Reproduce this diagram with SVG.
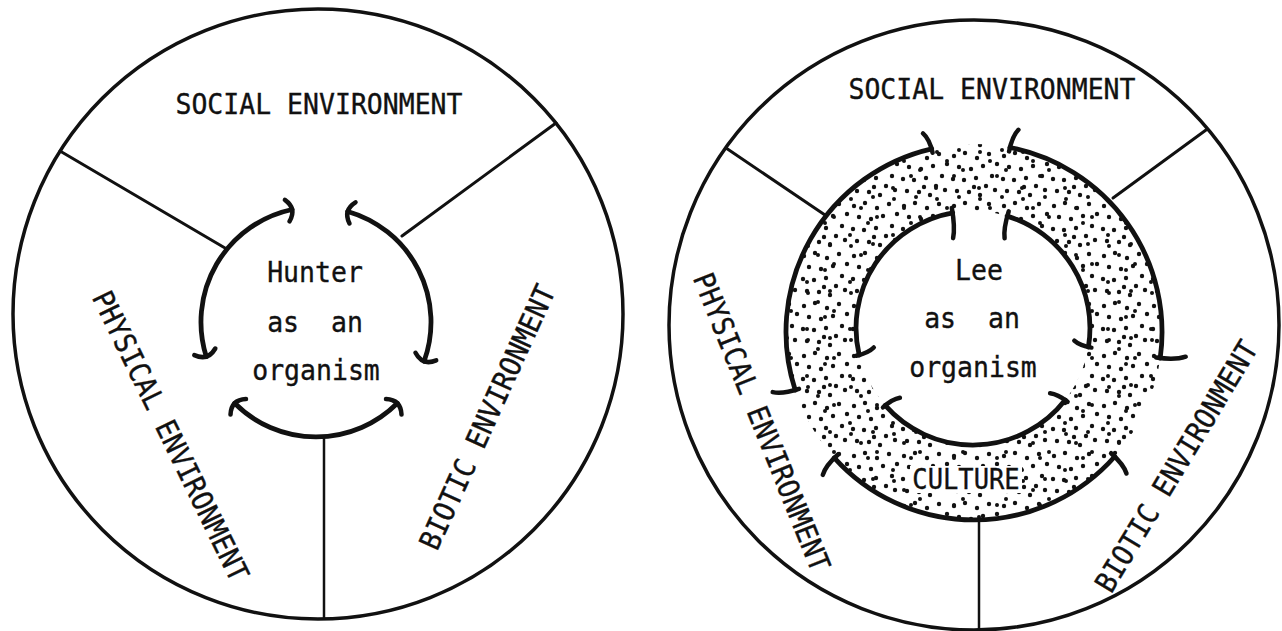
<svg xmlns="http://www.w3.org/2000/svg" width="1282" height="631" viewBox="0 0 1282 631">
  <style>
    .frame { fill: none; stroke: #111; stroke-width: 3.5; }
    .divider { fill: none; stroke: #111; stroke-width: 3; stroke-linecap: round; }
    .stem { fill: none; stroke: #111; stroke-width: 2.5; }
    .arc { fill: none; stroke: #111; stroke-width: 4.8; stroke-linecap: round; }
    .head { fill: none; stroke: #111; stroke-width: 4.5; stroke-linecap: round; stroke-linejoin: round; }
    .lbl { font-family: "DejaVu Sans Mono", "Liberation Mono", monospace; font-size: 26.5px; fill: #111; stroke: #111; stroke-width: 0.35; text-anchor: middle; }
    .small { font-size: 25.5px; }
  </style>
  <defs>
    <!-- two offset dot tiles layered to give an irregular stipple -->
    <pattern id="dotsA" patternUnits="userSpaceOnUse" width="50" height="50">
      <g fill="#111">
        <circle cx="4" cy="6" r="2.2"/><circle cx="15" cy="3" r="2.2"/><circle cx="27" cy="8" r="2.2"/>
        <circle cx="39" cy="4" r="2.2"/><circle cx="47" cy="14" r="2.2"/><circle cx="9" cy="17" r="2.2"/>
        <circle cx="21" cy="19" r="2.2"/><circle cx="33" cy="16" r="2.2"/><circle cx="42" cy="26" r="2.2"/>
        <circle cx="3" cy="29" r="2.2"/><circle cx="14" cy="30" r="2.2"/><circle cx="26" cy="28" r="2.2"/>
        <circle cx="36" cy="36" r="2.2"/><circle cx="7" cy="41" r="2.2"/><circle cx="19" cy="42" r="2.2"/>
        <circle cx="30" cy="45" r="2.2"/><circle cx="45" cy="40" r="2.2"/><circle cx="24" cy="37" r="2.2"/>
      </g>
    </pattern>
    <pattern id="dotsB" patternUnits="userSpaceOnUse" width="43" height="47" x="11" y="7">
      <g fill="#111">
        <circle cx="2" cy="2" r="2"/><circle cx="23" cy="4" r="2"/><circle cx="6" cy="22" r="2"/>
        <circle cx="40" cy="28" r="2"/><circle cx="22" cy="40" r="2"/><circle cx="33" cy="13" r="2"/>
      </g>
    </pattern>
  </defs>

  <rect width="1282" height="631" fill="#fff"/>

  <!-- ===== Left figure: hunter as an organism ===== -->
  <g id="left-figure">
    <g id="left-frame">
      <circle class="frame" cx="318" cy="314" r="305"/>
      <line class="divider" x1="60" y1="151" x2="225" y2="248"/>
      <line class="divider" x1="556" y1="123" x2="402" y2="236"/>
      <line class="stem" x1="324" y1="437" x2="324" y2="619"/>
    </g>
    <g id="left-social"><text class="lbl" transform="translate(319 114) scale(1 1.1)">SOCIAL ENVIRONMENT</text></g>
    <g id="left-physical"><text class="lbl" transform="translate(171 436) rotate(64) scale(1 1.1)" x="0" y="9.6">PHYSICAL ENVIRONMENT</text></g>
    <g id="left-biotic"><text class="lbl" transform="translate(487 417) rotate(-65.5) scale(1 1.1)" x="0" y="9.6">BIOTIC ENVIRONMENT</text></g>
    <g id="left-organism">
      <text class="lbl" transform="translate(315 282) scale(1 1.1)">Hunter</text>
      <text class="lbl" transform="translate(315 332) scale(1 1.1)" xml:space="preserve">as  an</text>
      <text class="lbl" transform="translate(316 380) scale(1 1.1)">organism</text>
    </g>
    <g id="left-connectors">
      <path class="arc" d="M206.3 356.6 A115 115 0 0 1 292.1 209.5"/>
      <path class="head" d="M284.9 199.8 Q297 208.5 289.5 221.3"/>
      <path class="head" d="M194.3 355.1 Q207.8 361.4 215.3 348.5"/>
      <path class="arc" d="M347.7 211.5 A115 115 0 0 1 424.1 361.3"/>
      <path class="head" d="M355.5 202.3 Q342.9 210.1 349.5 223.5"/>
      <path class="head" d="M436.2 360.4 Q422.4 366 415.5 352.8"/>
      <path class="arc" d="M397.3 403.3 A115 115 0 0 1 234.7 403.3"/>
      <path class="head" d="M401.5 414.6 Q400.8 399.8 386 399.1"/>
      <path class="head" d="M230.5 414.6 Q231.2 399.8 246 399.1"/>
    </g>
  </g>

  <!-- ===== Right figure: Lee, wrapped in culture ===== -->
  <g id="right-figure">
    <g id="right-frame">
      <circle class="frame" cx="974" cy="325" r="305"/>
      <line class="divider" x1="726" y1="148" x2="825" y2="215"/>
      <line class="divider" x1="1206" y1="130" x2="1113" y2="198"/>
      <line class="stem" x1="979" y1="520" x2="979" y2="630"/>
    </g>
    <g id="culture">
      <path fill="url(#dotsA)" fill-rule="evenodd" d="M786 332 a188 188 0 1 0 376 0 a188 188 0 1 0 -376 0 Z M856 328 a117 117 0 1 0 234 0 a117 117 0 1 0 -234 0 Z"/>
      <path fill="url(#dotsB)" fill-rule="evenodd" d="M786 332 a188 188 0 1 0 376 0 a188 188 0 1 0 -376 0 Z M856 328 a117 117 0 1 0 234 0 a117 117 0 1 0 -234 0 Z"/>
      <rect x="910" y="466" width="112" height="27" fill="#fff"/>
      <text class="lbl small" transform="translate(966 489) scale(1 1.1)">CULTURE</text>
    </g>
    <g id="right-social"><text class="lbl" transform="translate(992 99) scale(1 1.1)">SOCIAL ENVIRONMENT</text></g>
    <g id="right-physical"><text class="lbl" transform="translate(762 422) rotate(68) scale(1 1.1)" x="0" y="9.6">PHYSICAL ENVIRONMENT</text></g>
    <g id="right-biotic"><text class="lbl" transform="translate(1176 466) rotate(-59) scale(1 1.1)" x="0" y="9.6">BIOTIC ENVIRONMENT</text></g>
    <g id="right-organism">
      <text class="lbl" transform="translate(979 280) scale(1 1.1)">Lee</text>
      <text class="lbl" transform="translate(972 328) scale(1 1.1)" xml:space="preserve">as  an</text>
      <text class="lbl" transform="translate(973 377) scale(1 1.1)">organism</text>
    </g>
    <g id="right-connectors">
      <!-- outer arcs: environment to culture -->
      <path class="arc" d="M795.2 390.1 A188 188 0 0 1 931.7 148.8"/>
      <path class="head" d="M932.6 152.7 Q929.4 138.9 923 133.4"/>
      <path class="head" d="M799 388.9 Q782.6 394.2 772.7 392.1"/>
      <path class="arc" d="M1009.9 147.5 A188 188 0 0 1 1160.2 358.2"/>
      <path class="head" d="M1009.1 151.4 Q1012.1 136.3 1018.4 129.8"/>
      <path class="head" d="M1156.2 357.6 Q1175.1 360.3 1185.7 356.7"/>
      <path class="arc" d="M1114.8 456.5 A188 188 0 0 1 834.3 457.8"/>
      <path class="head" d="M1111.1 453.2 Q1123.8 464.5 1126.5 473.5"/>
      <path class="head" d="M838 454.5 Q825.4 465.8 822.8 474.9"/>
      <!-- inner arcs: culture to organism -->
      <path class="arc" d="M859.2 355.1 A117 117 0 0 1 952.7 212.8"/>
      <path class="head" d="M951.8 207.9 Q955.3 227.6 953.1 238.1"/>
      <path class="head" d="M856.3 355.8 Q868.5 352.9 873.8 347.5"/>
      <path class="arc" d="M1007.2 216.1 A117 117 0 0 1 1088.4 347.1"/>
      <path class="head" d="M1008.7 211.3 Q1003.3 228.7 1004.6 238.3"/>
      <path class="head" d="M1091.4 347.6 Q1079.5 345.6 1074.3 340.7"/>
      <path class="arc" d="M1065.2 400 A117 117 0 0 1 885.2 405.4"/>
      <path class="head" d="M1067.6 401.8 Q1057.6 394.1 1050.1 393.3"/>
      <path class="head" d="M883 407.4 Q892.4 399.1 899.9 397.8"/>
    </g>
  </g>
</svg>
